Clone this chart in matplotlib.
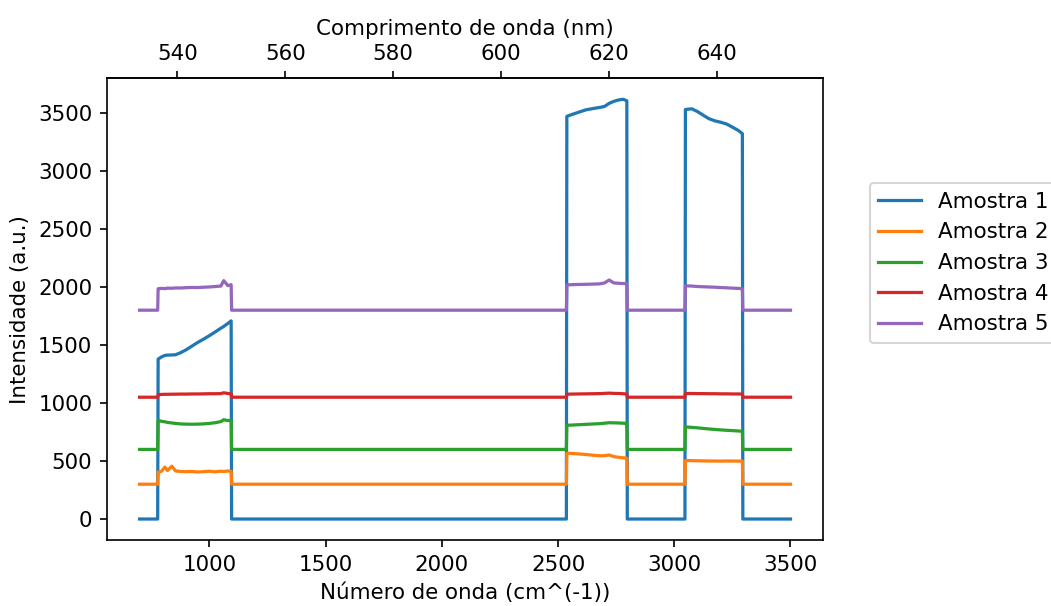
import matplotlib
matplotlib.use("Agg")
import matplotlib.pyplot as plt

# Wavenumber sample points (cm^-1), shared by every sample
wavenumber = [700, 778,
              780, 795, 809, 820, 839, 855, 875, 900, 925, 950, 975, 1000, 1025, 1050, 1062, 1080, 1094,
              1096, 2536,
              2538, 2560, 2590, 2620, 2650, 2680, 2700, 2720, 2740, 2760, 2780, 2796,
              2798, 3046,
              3048, 3075, 3100, 3125, 3150, 3175, 3200, 3225, 3250, 3275, 3293,
              3295, 3500]

amostra_1 = [0, 0,
             1378, 1398, 1410, 1413, 1414, 1416, 1432, 1458, 1490, 1522, 1550, 1580, 1612, 1645, 1660, 1686, 1708,
             0, 0,
             3471, 3487, 3507, 3527, 3538, 3548, 3556, 3583, 3600, 3612, 3618, 3605,
             0, 0,
             3530, 3536, 3512, 3480, 3450, 3432, 3420, 3405, 3378, 3350, 3322,
             0, 0]

amostra_2 = [300, 300,
             405, 412, 448, 418, 455, 415, 410, 408, 410, 405, 408, 412, 407, 412, 410, 414, 412,
             300, 300,
             568, 565, 561, 556, 550, 545, 546, 552, 538, 532, 528, 525,
             300, 300,
             505, 503, 502, 501, 500, 500, 499, 500, 500, 499, 500,
             300, 300]

amostra_3 = [600, 600,
             850, 842, 838, 833, 828, 824, 820, 818, 817, 818, 820, 824, 830, 840, 856, 848, 852,
             600, 600,
             808, 810, 813, 816, 819, 822, 826, 830, 829, 828, 826, 823,
             600, 600,
             794, 790, 786, 781, 776, 772, 768, 765, 762, 759, 756,
             600, 600]

amostra_4 = [1050, 1050,
             1072, 1074, 1075, 1075, 1076, 1076, 1077, 1077, 1078, 1078, 1079, 1080, 1080, 1081, 1088, 1082, 1080,
             1050, 1050,
             1076, 1077, 1078, 1079, 1080, 1081, 1083, 1085, 1083, 1082, 1080, 1078,
             1050, 1050,
             1082, 1082, 1081, 1081, 1080, 1080, 1079, 1079, 1078, 1078, 1077,
             1050, 1050]

amostra_5 = [1800, 1800,
             1985, 1988, 1986, 1990, 1989, 1992, 1991, 1994, 1996, 1995, 1998, 2000, 2004, 2008, 2055, 2012, 2020,
             1800, 1800,
             2018, 2020, 2022, 2023, 2025, 2027, 2035, 2060, 2035, 2032, 2030, 2028,
             1800, 1800,
             2010, 2008, 2004, 2002, 2000, 1998, 1995, 1993, 1990, 1988, 1985,
             1800, 1800]

series = [amostra_1, amostra_2, amostra_3, amostra_4, amostra_5]
labels = ["Amostra 1", "Amostra 2", "Amostra 3", "Amostra 4", "Amostra 5"]
nm_ticks = [540, 560, 580, 600, 620, 640]

# Linear calibration between wavenumber and wavelength
NU0, NM0 = 700.0, 533.0
NM_PER_NU = 120.6 / 2800.0


def nu_to_nm(nu):
    return NM0 + (nu - NU0) * NM_PER_NU


def nm_to_nu(nm):
    return NU0 + (nm - NM0) / NM_PER_NU


plt.rcParams["font.size"] = 10.25
plt.rcParams["lines.linewidth"] = 1.55

fig = plt.figure(figsize=(1051 / 150, 606 / 150), dpi=150)
ax = fig.add_axes([0.1018, 0.1089, 0.6813, 0.7619])

for ys, lab in zip(series, labels):
    ax.plot(wavenumber, ys, label=lab)

ax.set_xlabel("Número de onda (cm^(-1))")
ax.set_ylabel("Intensidade (a.u.)")

top = ax.secondary_xaxis("top", functions=(nu_to_nm, nm_to_nu))
top.set_xticks(nm_ticks)
top.set_xlabel("Comprimento de onda (nm)")

ax.legend(loc="center left", bbox_to_anchor=(1.05, 0.6))

fig.savefig("out.png", dpi=150)
